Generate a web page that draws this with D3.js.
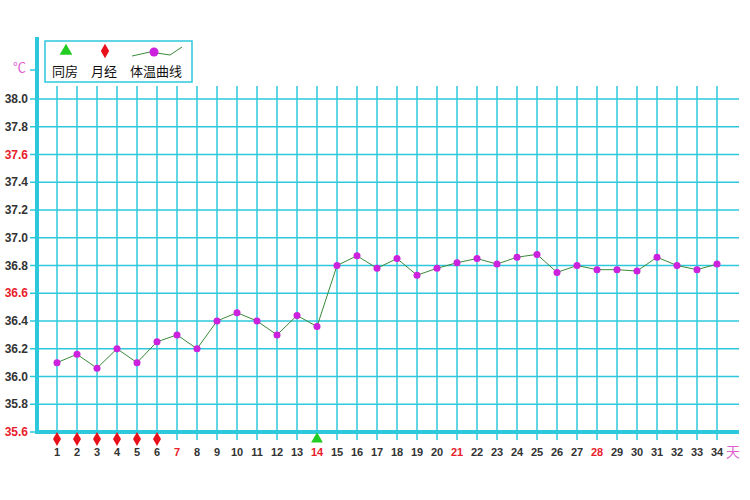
<!DOCTYPE html>
<html><head><meta charset="utf-8">
<script src="https://cdn.jsdelivr.net/npm/d3@7.9.0/dist/d3.min.js"></script>
<style>body{margin:0;background:#fff}svg{font-family:Arial,"Liberation Sans",sans-serif}</style>
</head><body><svg id="c" width="750" height="500"></svg>
<script>
const days = d3.range(1, 35);
const temps = [36.10,36.16,36.06,36.20,36.10,36.25,36.30,36.20,36.40,36.46,36.40,36.30,36.44,36.36,
  36.80,36.87,36.78,36.85,36.73,36.78,36.82,36.85,36.81,36.86,36.88,36.75,36.80,36.77,36.77,36.76,36.86,36.80,36.77,36.81];
const periodDays = [1,2,3,4,5,6];
const sexDays = [14];
const yTicks = d3.range(35.6, 38.01, 0.2).map(v => +v.toFixed(1));
const redY = [37.6, 36.6, 35.6];
const redX = [7, 14, 21, 28];

const grid = '#2ec8dc';
const svg = d3.select('#c');
const x = d3.scaleLinear().domain([1, 34]).range([57, 717]);
const y = d3.scaleLinear().domain([35.6, 38.0]).range([432, 99]);

// grid
svg.selectAll('.v').data(days).enter().append('line')
  .attr('x1', d => x(d)).attr('x2', d => x(d)).attr('y1', 86).attr('y2', 440)
  .attr('stroke', grid).attr('stroke-width', 1.5);
svg.selectAll('.h').data(yTicks).enter().append('line')
  .attr('x1', 30).attr('x2', 739).attr('y1', d => y(d)).attr('y2', d => y(d))
  .attr('stroke', grid).attr('stroke-width', 1.5);
// axes
svg.append('line').attr('x1', 37).attr('x2', 37).attr('y1', 37).attr('y2', 434)
  .attr('stroke', grid).attr('stroke-width', 4);
svg.append('line').attr('x1', 35).attr('x2', 739).attr('y1', 432).attr('y2', 432)
  .attr('stroke', grid).attr('stroke-width', 4);
svg.append('line').attr('x1', 30).attr('x2', 37).attr('y1', 70).attr('y2', 70)
  .attr('stroke', grid).attr('stroke-width', 1.5);

svg.selectAll('.yl').data(yTicks).enter().append('text')
  .attr('x', 28).attr('y', d => y(d) + 4).attr('text-anchor', 'end')
  .attr('font-size', 12).attr('font-weight', 'bold')
  .attr('fill', d => redY.includes(d) ? '#e8202a' : '#333')
  .text(d => d.toFixed(1));
svg.selectAll('.xl').data(days).enter().append('text')
  .attr('x', d => x(d)).attr('y', 456).attr('text-anchor', 'middle')
  .attr('font-size', 11).attr('font-weight', 'bold')
  .attr('fill', d => redX.includes(d) ? '#e8202a' : '#333')
  .text(d => d);
svg.append('text').attr('x', 13).attr('y', 72).attr('font-size', 13).attr('fill', '#e060d0')
  .attr('font-family', 'Noto Sans CJK SC').text('℃');
svg.append('text').attr('x', 726).attr('y', 457).attr('font-size', 14).attr('fill', '#e060d0')
  .attr('font-family', 'Noto Sans CJK SC').text('天');

// markers
const diamond = d3.symbol().type(d3.symbolDiamond).size(55);
const tri = d3.symbol().type(d3.symbolTriangle).size(60);
svg.selectAll('.p').data(periodDays).enter().append('path')
  .attr('d', diamond).attr('transform', d => `translate(${x(d)},439)`).attr('fill', '#e8101a');
svg.selectAll('.s').data(sexDays).enter().append('path')
  .attr('d', tri).attr('transform', d => `translate(${x(d)},439)`).attr('fill', '#22cc22');

// line
const line = d3.line().x((d, i) => x(days[i])).y(d => y(d));
svg.append('path').datum(temps).attr('d', line).attr('fill', 'none')
  .attr('stroke', '#3a8a3a').attr('stroke-width', 1);
svg.selectAll('.pt').data(temps).enter().append('circle')
  .attr('cx', (d, i) => x(days[i])).attr('cy', d => y(d)).attr('r', 3.5)
  .attr('fill', '#cc22dd');

// legend
const lg = svg.append('g');
lg.append('rect').attr('x', 45).attr('y', 41).attr('width', 147).attr('height', 41)
  .attr('fill', '#fff').attr('stroke', grid).attr('stroke-width', 1.5);
lg.append('path').attr('d', d3.symbol().type(d3.symbolTriangle).size(70)).attr('transform', 'translate(66,51)').attr('fill', '#22cc22');
lg.append('path').attr('d', d3.symbol().type(d3.symbolDiamond).size(60)).attr('transform', 'translate(105,51)').attr('fill', '#e8101a');
lg.append('path').attr('d', 'M132,56 L150,52 L170,55 L182,47').attr('fill', 'none').attr('stroke', '#3a8a3a');
lg.append('circle').attr('cx', 154).attr('cy', 52).attr('r', 4.5).attr('fill', '#cc22dd');
const lt = [['同房', 52], ['月经', 91], ['体温曲线', 130]];
lg.selectAll('.lt').data(lt).enter().append('text')
  .attr('x', d => d[1]).attr('y', 76).attr('font-size', 13)
  .attr('font-family', 'Noto Sans CJK SC').attr('fill', '#111').text(d => d[0]);
</script></body></html>
